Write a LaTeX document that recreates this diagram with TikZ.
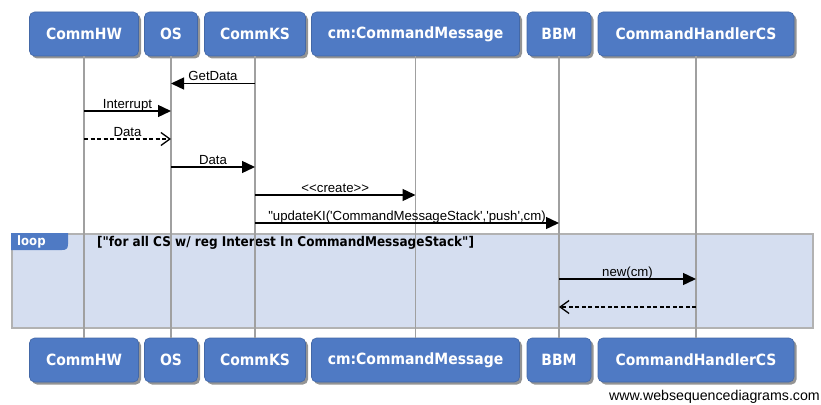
\documentclass[tikz,border=0pt]{standalone}
\usepackage{fontspec}
\setmainfont{Liberation Sans}[Ligatures=TeXOff]
\newfontfamily\boxfont{DejaVu Sans Condensed}[Ligatures=TeXOff]
\usetikzlibrary{arrows.meta,shadows}
\definecolor{boxblue}{RGB}{79,122,196}
\definecolor{loopfill}{RGB}{213,222,240}
\definecolor{loopline}{RGB}{178,178,178}
\definecolor{lifegray}{RGB}{160,160,160}
\tikzset{
  actor/.style={rectangle, rounded corners=5pt, fill=boxblue, draw=boxblue!85!black, line width=.6pt,
    text=white, font=\boxfont\bfseries\fontsize{15.5}{18}\selectfont, minimum height=44pt, inner sep=0pt,
    drop shadow={shadow xshift=2.5pt, shadow yshift=-2.5pt, fill=black!70, opacity=.6}},
  life/.style={draw=lifegray, line width=1.5pt},
  msg/.style={draw=black, line width=1.4pt, -{Triangle[length=13pt,width=12pt]}},
  reply/.style={draw=black, line width=1.4pt, dash pattern=on 4pt off 2.5pt, -{Straight Barb[length=9pt,width=13pt,line width=1.3pt]}},
  lbl/.style={anchor=base, yshift=3pt, inner sep=0pt, font=\fontsize{13.2}{15}\selectfont},
}
\begin{document}
\begin{tikzpicture}[x=1pt,y=-1pt]
\useasboundingbox (0,0) rectangle (821,404);
% loop frame
\node[draw=loopline, fill=loopfill, line width=1.8pt, minimum width=801pt, minimum height=94pt, anchor=north west, inner sep=0pt] (loop) at (11,233) {};
\fill[boxblue] (11,233) -- (68,233) -- (68,244) .. controls (68,249) and (66,250) .. (62,250) -- (11,250) -- cycle;
\node[anchor=west, text=white, inner sep=0pt, font=\boxfont\bfseries\fontsize{13}{15}\selectfont] (looplbl) at (17,241.5) {loop};
\node[anchor=west, inner sep=0pt, font=\boxfont\bfseries\fontsize{13.4}{16}\selectfont] (cond) at (97,243) {["for all CS w/ reg Interest In CommandMessageStack"]};
% actors top
\node[actor, minimum width=109pt] (hw) at (84,34) {CommHW};
\node[actor, minimum width=53pt] (os) at (171,34) {OS};
\node[actor, minimum width=101pt] (ks) at (255,34) {CommKS};
\node[actor, minimum width=208pt] (cm) at (415.5,34) {cm:CommandMessage};
\node[actor, minimum width=64pt] (bbm) at (559,34) {BBM};
\node[actor, minimum width=196pt] (ch) at (696,34) {CommandHandlerCS};
% actors bottom
\node[actor, minimum width=109pt] (hwb) at (84,360) {CommHW};
\node[actor, minimum width=53pt] (osb) at (171,360) {OS};
\node[actor, minimum width=101pt] (ksb) at (255,360) {CommKS};
\node[actor, minimum width=208pt] (cmb) at (415.5,360) {cm:CommandMessage};
\node[actor, minimum width=64pt] (bbmb) at (559,360) {BBM};
\node[actor, minimum width=196pt] (chb) at (696,360) {CommandHandlerCS};
% lifelines
\draw[life] (hw) -- (hwb);
\draw[life] (os) -- (osb);
\draw[life] (ks) -- (ksb);
\draw[life] (cm) -- (cmb);
\draw[life] (bbm) -- (bbmb);
\draw[life] (ch) -- (chb);
% messages
\draw[msg] (ks |- 0,83.5) -- node[lbl]{GetData} (os |- 0,83.5);
\draw[msg] (hw |- 0,111) -- node[lbl]{Interrupt} (os |- 0,111);
\draw[reply] (hw |- 0,139) -- node[lbl]{Data} (os |- 0,139);
\draw[msg] (os |- 0,167) -- node[lbl]{Data} (ks |- 0,167);
\draw[msg] (ks |- 0,195) -- node[lbl]{<<create>>} (cm |- 0,195);
\draw[msg] (ks |- 0,223) -- node[lbl]{"updateKI('CommandMessageStack','push',cm)} (bbm |- 0,223);
\draw[msg] (bbm |- 0,279) -- node[lbl]{new(cm)} (ch |- 0,279);
\draw[reply] (ch |- 0,307) -- (bbm |- 0,307);
% footer
\node[anchor=east, inner sep=0pt, font=\fontsize{14.2}{16}\selectfont] (footer) at (820,397) {www.websequencediagrams.com};
\end{tikzpicture}
\end{document}
